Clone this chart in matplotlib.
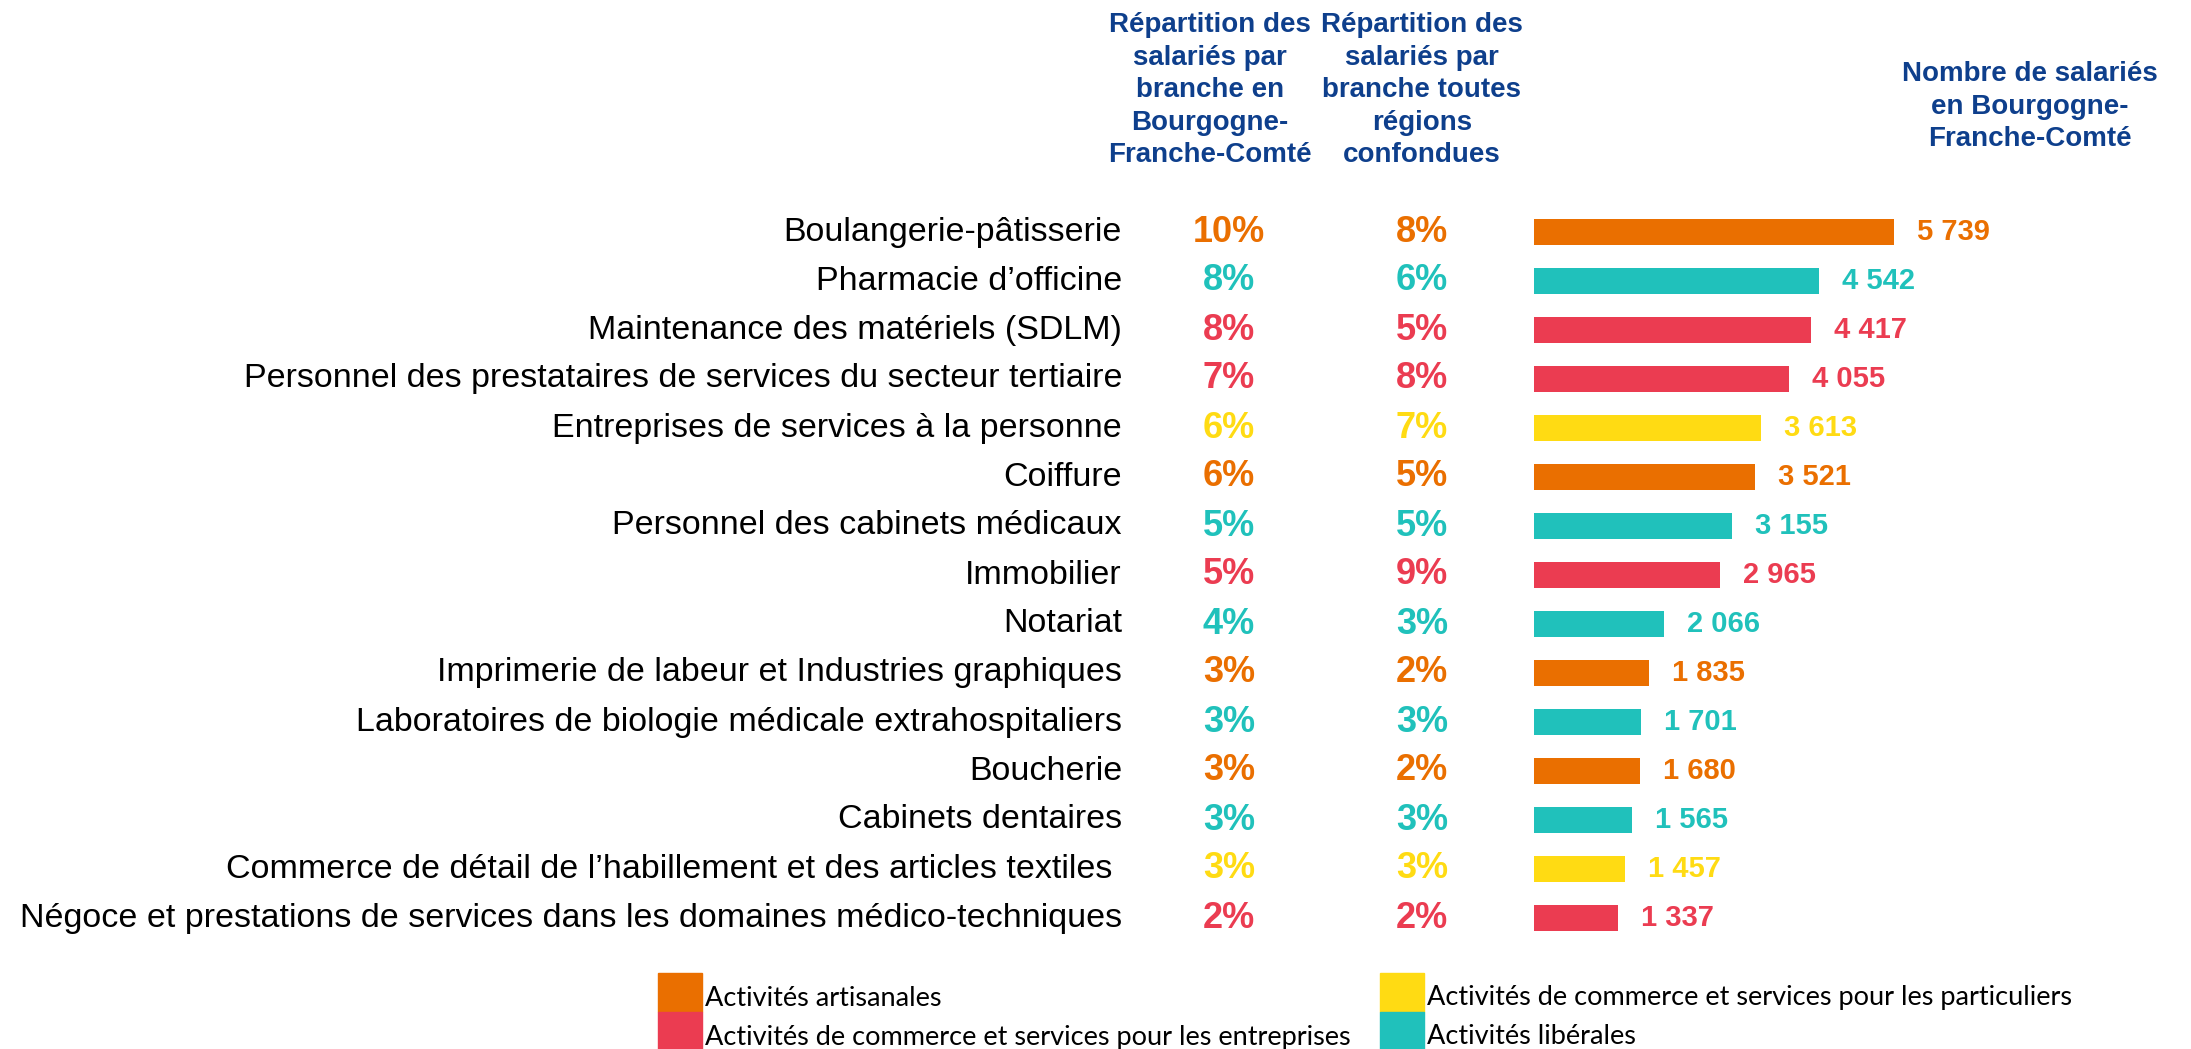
import matplotlib
matplotlib.use("Agg")
import matplotlib.pyplot as plt
from matplotlib.patches import Rectangle
from matplotlib.transforms import blended_transform_factory

# data
branches = [
    "Boulangerie-pâtisserie",
    "Pharmacie d’officine",
    "Maintenance des matériels (SDLM)",
    "Personnel des prestataires de services du secteur tertiaire",
    "Entreprises de services à la personne",
    "Coiffure",
    "Personnel des cabinets médicaux",
    "Immobilier",
    "Notariat",
    "Imprimerie de labeur et Industries graphiques",
    "Laboratoires de biologie médicale extrahospitaliers",
    "Boucherie",
    "Cabinets dentaires",
    "Commerce de détail de l’habillement et des articles textiles ",
    "Négoce et prestations de services dans les domaines médico-techniques",
]
pct_bfc = [10, 8, 8, 7, 6, 6, 5, 5, 4, 3, 3, 3, 3, 3, 2]
pct_france = [8, 6, 5, 8, 7, 5, 5, 9, 3, 2, 3, 2, 3, 3, 2]
salaries = [5739, 4542, 4417, 4055, 3613, 3521, 3155, 2965, 2066, 1835, 1701, 1680, 1565, 1457, 1337]
groupe = ["art", "lib", "ent", "ent", "part", "art", "lib", "ent", "lib", "art", "lib", "art", "lib", "part", "ent"]

couleurs = {"art": "#EA6F00", "lib": "#20C1BB", "ent": "#EB3C51", "part": "#FFDB13"}
legende = {
    "art": "Activités artisanales",
    "ent": "Activités de commerce et services pour les entreprises",
    "part": "Activités de commerce et services pour les particuliers",
    "lib": "Activités libérales",
}
bleu = "#0E3F8C"

W, H = 2191, 1049
fig = plt.figure(figsize=(W / 100, H / 100), dpi=100)
plt.rcParams["font.family"] = ["Liberation Sans", "DejaVu Sans"]

# bar axes: first row centre at y=232 px, pitch 49 px
n = len(branches)
top_px = 232 - 24.5
bot_px = top_px + 49 * n
left_px = 1534
ax = fig.add_axes([left_px / W, 1 - bot_px / H, (W - left_px) / W, (bot_px - top_px) / H])
cols = [couleurs[g] for g in groupe]
ax.barh(range(n), salaries, height=0.53, color=cols)
ax.set_ylim(n - 0.5, -0.5)
ax.set_xlim(0, (W - left_px) / 0.0628)
ax.axis("off")

for i, v in enumerate(salaries):
    ax.annotate(f"{v:,}".replace(",", " "), (v, i), xytext=(23, 0), textcoords="offset pixels",
                va="center", ha="left", color=cols[i], fontsize=21, fontweight="bold")

tr = blended_transform_factory(fig.transFigure, ax.transData)
for i in range(n):
    ax.text(1122 / W, i, branches[i], transform=tr, ha="right", va="center", fontsize=24.5, color="black")
    ax.text(1229 / W, i, f"{pct_bfc[i]}%", transform=tr, ha="center", va="center",
            fontsize=26, fontweight="bold", color=cols[i])
    ax.text(1422 / W, i, f"{pct_france[i]}%", transform=tr, ha="center", va="center",
            fontsize=26, fontweight="bold", color=cols[i])

# column headers
fig.text(1210 / W, 1 - 12 / H, "Répartition des\nsalariés par\nbranche en\nBourgogne-\nFranche-Comté",
         ha="center", va="top", fontsize=20, fontweight="bold", color=bleu, linespacing=1.33)
fig.text(1422 / W, 1 - 12 / H, "Répartition des\nsalariés par\nbranche toutes\nrégions\nconfondues",
         ha="center", va="top", fontsize=20, fontweight="bold", color=bleu, linespacing=1.33)
fig.text(2030 / W, 1 - 61 / H, "Nombre de salariés\nen Bourgogne-\nFranche-Comté",
         ha="center", va="top", fontsize=20, fontweight="bold", color=bleu, linespacing=1.33)

# legend
leg_pos = {"art": (658, 974), "ent": (658, 1013), "part": (1380, 974), "lib": (1380, 1013)}
for k, (x, y) in leg_pos.items():
    fig.patches.append(Rectangle((x / W, 1 - (y + 38) / H), 44 / W, 39 / H,
                                 transform=fig.transFigure, color=couleurs[k]))
    fig.text((x + 47) / W, 1 - (y + 24) / H, legende[k], ha="left", va="center",
             fontsize=19.5, family=["Lato", "DejaVu Sans"], color="black")

fig.savefig("out.png", dpi=100)
